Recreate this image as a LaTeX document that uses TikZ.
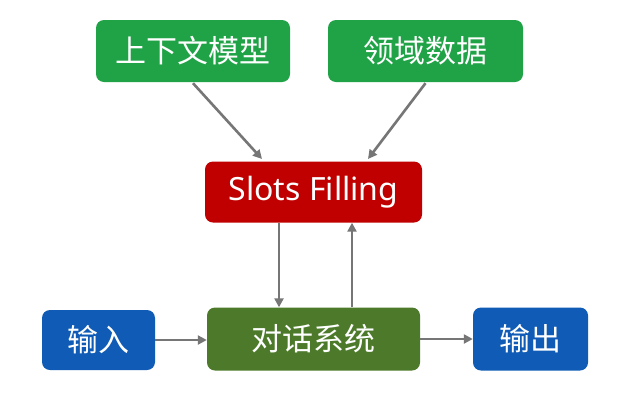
\documentclass[tikz,border=0pt]{standalone}
\usepackage{fontspec}
\setmainfont{Noto Sans}
\newfontfamily\cjk{Noto Sans CJK SC}
\usetikzlibrary{arrows.meta}
\definecolor{topgreen}{HTML}{1FA346}
\definecolor{slotred}{HTML}{C00000}
\definecolor{sysgreen}{HTML}{4C7A2A}
\definecolor{ioblue}{HTML}{0F5BB5}
\definecolor{arrgray}{HTML}{767676}
\begin{document}
\begin{tikzpicture}[x=1pt,y=-1pt,
  boxstyle/.style={rounded corners=8pt, text=white, inner sep=0pt, font=\cjk\fontsize{31}{34}\selectfont},
  conn/.style={draw=arrgray, line width=2.6pt, -{Triangle[length=9pt,width=9pt]}}]
\useasboundingbox (0,0) rectangle (640,400);
\fill[white] (0,0) rectangle (640,400);
\node[boxstyle, fill=topgreen, minimum width=194pt, minimum height=62pt] (ctx) at (193,51) {上下文模型};
\node[boxstyle, fill=topgreen, minimum width=195pt, minimum height=62pt] (dom) at (425.5,51) {领域数据};
\node[boxstyle, fill=slotred, minimum width=217pt, minimum height=61pt, font=\fontsize{32}{36}\selectfont] (slot) at (313.5,192) {Slots Filling};
\node[boxstyle, fill=sysgreen, minimum width=213pt, minimum height=63pt] (sys) at (313.5,339) {对话系统};
\node[boxstyle, fill=ioblue, minimum width=113pt, minimum height=60pt] (in) at (98.5,340) {输入};
\node[boxstyle, fill=ioblue, minimum width=115pt, minimum height=63pt] (out) at (530.5,339) {输出};
\draw[conn] (ctx.south) ++(0,1) coordinate (c1) -- (262,159) coordinate (c2);
\draw[conn] (dom.south) ++(0,1) coordinate (d1) -- (368,159) coordinate (d2);
\draw[conn] (slot.south -| 279,0) -- (sys.north -| 279,0);
\draw[conn] (sys.north -| 352,0) -- (slot.south -| 352,0);
\draw[conn] (in.east) -- (sys.west |- in.east);
\draw[conn] (sys.east) -- (out.west);
\end{tikzpicture}
\end{document}
